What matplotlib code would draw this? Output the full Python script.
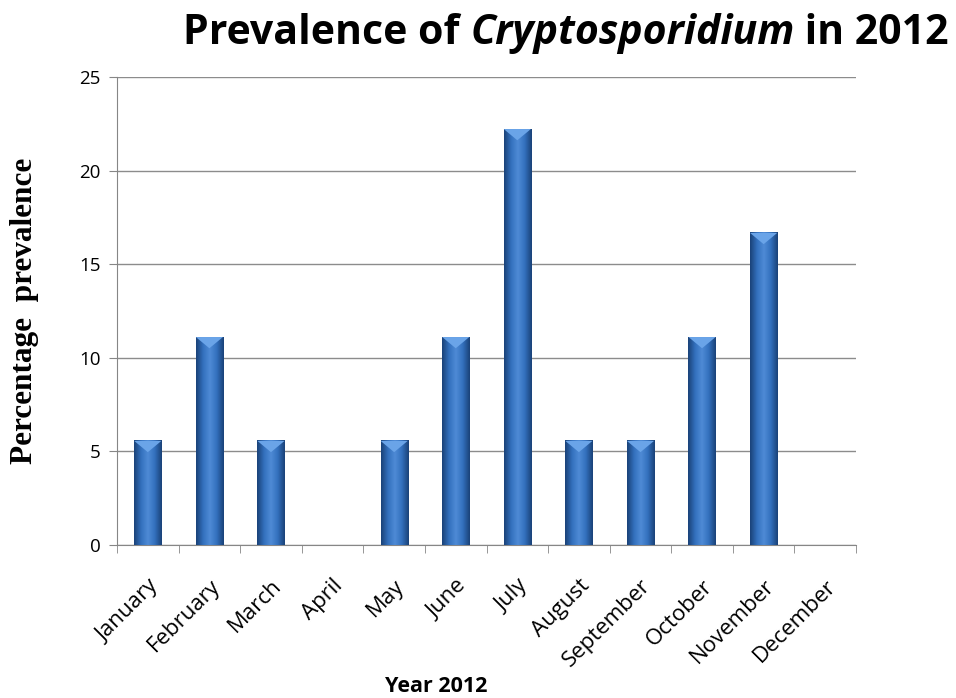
import matplotlib
matplotlib.use('Agg')
import matplotlib.pyplot as plt
import numpy as np
from matplotlib.colors import LinearSegmentedColormap

# Monthly prevalence values
months = ['January', 'February', 'March', 'April', 'May', 'June', 'July',
          'August', 'September', 'October', 'November', 'December']
prevalence = [5.56, 11.11, 5.56, 0, 5.56, 11.11, 22.22, 5.56, 5.56, 11.11, 16.67, 0]
y_ticks = [0, 5, 10, 15, 20, 25]

fig = plt.figure(figsize=(9.56, 6.98), dpi=100)
ax = fig.add_axes([0.1224, 0.2192, 0.773, 0.6705])

x = np.arange(len(months))
bars = ax.bar(x, prevalence, width=0.44, color='#3a72c0', edgecolor='none', zorder=2)

# Horizontal gradient inside each bar (dark edges, light middle)
cmap = LinearSegmentedColormap.from_list('bar', ['#1a4278', '#3370bd', '#4f8bd6', '#3370bd', '#1a4278'])
grad = np.linspace(0, 1, 64).reshape(1, -1)
for b in bars:
    h = b.get_height()
    if h <= 0:
        continue
    x0 = b.get_x()
    w = b.get_width()
    ax.imshow(grad, cmap=cmap, aspect='auto', extent=(x0, x0 + w, 0, h),
              zorder=3, interpolation='bicubic')
    # light cap at the top
    ax.fill([x0, x0 + w, x0 + w / 2], [h, h, h - 0.6], color='#6aa4e8', zorder=4, lw=0)

ax.set_xlim(-0.5, len(months) - 0.5)
ax.set_ylim(0, 25)
ax.set_yticks(y_ticks)
ax.set_yticklabels([str(t) for t in y_ticks], fontsize=13.5, family='Open Sans')

ax.set_xticks(x)
ax.set_xticklabels(months, rotation=45, ha='right', rotation_mode='anchor',
                   fontsize=16, family='Open Sans')
ax.tick_params(axis='x', length=0, pad=22)
ax.set_xticks(np.arange(len(months) + 1) - 0.5, minor=True)
ax.tick_params(axis='x', which='minor', length=6, color='#868686', direction='out')
ax.tick_params(axis='y', length=6, color='#868686', direction='out', pad=6)

ax.grid(axis='y', color='#8c8c8c', lw=1, zorder=0)
ax.set_axisbelow(True)
for side in ['top', 'right']:
    ax.spines[side].set_visible(False)
for side in ['left', 'bottom']:
    ax.spines[side].set_color('#868686')

fig.text(25 / 956, 0.555, 'Percentage  prevalence', family='Liberation Serif',
         fontweight='bold', fontsize=22.5, rotation=90, ha='center', va='center')
fig.text(436 / 956, 1 - 686 / 698, 'Year 2012', family='Open Sans',
         fontweight='bold', fontsize=15.5, ha='center', va='center')

# Title with an italic genus name, built from three pieces
fig.canvas.draw()
r = fig.canvas.get_renderer()
parts = [('Prevalence of ', 'normal'), ('Cryptosporidium', 'italic'), (' in 2012', 'normal')]
texts = []
for s, style in parts:
    t = fig.text(0, 1 - 44 / 698, s, fontsize=29.5, fontweight='bold', style=style,
                 family='Open Sans', va='baseline')
    texts.append(t)
widths = [t.get_window_extent(r).width for t in texts]
total = sum(widths)
xpos = 566 - total / 2
for t, w in zip(texts, widths):
    t.set_x(xpos / fig.bbox.width)
    xpos += w

fig.savefig('out.png', dpi=100)
